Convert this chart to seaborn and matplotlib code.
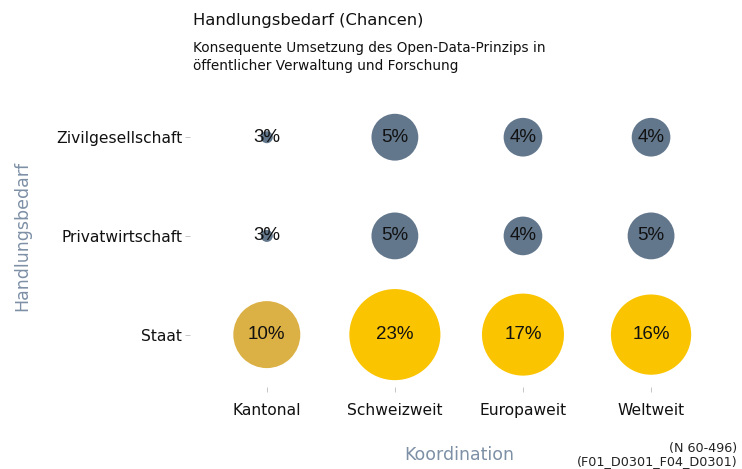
import matplotlib
matplotlib.use("Agg")
import matplotlib.pyplot as plt
import matplotlib.colors as mcolors
import seaborn as sns
import pandas as pd

# Koordinationsebenen (x) und Bereiche mit Handlungsbedarf (y, von unten nach oben)
koordination = ["Kantonal", "Schweizweit", "Europaweit", "Weltweit"]
bereiche = ["Staat", "Privatwirtschaft", "Zivilgesellschaft"]

# Anteile in Prozent je Bereich
staat = [10, 23, 17, 16]
privatwirtschaft = [3, 5, 4, 5]
zivilgesellschaft = [3, 5, 4, 4]

# Farbgruppen je Bereich; die kantonale Ebene beim Staat ist eigens markiert
gruppen_staat = ["Staat kantonal", "Staat", "Staat", "Staat"]
gruppen_andere = ["Andere"] * 4

palette = {"Andere": "#62768c", "Staat": "#fbc400", "Staat kantonal": "#dbb044"}

werte = {"Staat": staat, "Privatwirtschaft": privatwirtschaft,
         "Zivilgesellschaft": zivilgesellschaft}
gruppen = {"Staat": gruppen_staat, "Privatwirtschaft": gruppen_andere,
           "Zivilgesellschaft": gruppen_andere}

rows = []
for b in bereiche:
    for k, v, g in zip(koordination, werte[b], gruppen[b]):
        rows.append({"Koordination": k, "Handlungsbedarf": b, "Anteil": v, "Gruppe": g})
df = pd.DataFrame(rows)

sns.set_theme(style="white")
plt.rcParams["font.family"] = ["DejaVu Sans"]

fig = plt.figure(figsize=(7.42, 4.69), dpi=100)
ax = fig.add_axes([0.256, 0.175, 0.725, 0.644])

sns.scatterplot(
    data=df, x="Koordination", y="Handlungsbedarf",
    size="Anteil", sizes=(75, 4300),
    size_norm=mcolors.PowerNorm(gamma=0.6, vmin=3, vmax=23),
    hue="Gruppe", palette=palette,
    linewidth=0, legend=False, ax=ax, zorder=2,
)

for _, r in df.iterrows():
    ax.text(koordination.index(r["Koordination"]), bereiche.index(r["Handlungsbedarf"]),
            f"{r['Anteil']}%", ha="center", va="center", fontsize=13.5,
            family=["Liberation Sans", "DejaVu Sans"], color="#111111", zorder=3)

ax.set_xlim(-0.6, 3.6)
ax.set_ylim(-0.53, 2.53)
for s in ax.spines.values():
    s.set_visible(False)
ax.grid(False)
ax.tick_params(axis="both", which="both", length=3.5, width=0.6, color="#bbbbbb",
               labelsize=11.2, labelcolor="#111111", pad=2)
ax.tick_params(axis="x", pad=8, bottom=True)
ax.tick_params(axis="y", left=True)

ax.set_xlabel("Koordination", fontsize=12.5, color="#7d90a6", labelpad=20)
ax.set_ylabel("Handlungsbedarf", fontsize=12.5, color="#7d90a6", labelpad=18)

fig.text(0.260, 0.957, "Handlungsbedarf (Chancen)", fontsize=11.8, color="#111111",
         ha="left", va="center")
fig.text(0.260, 0.878, "Konsequente Umsetzung des Open-Data-Prinzips in\n"
         "öffentlicher Verwaltung und Forschung", fontsize=9.8, color="#111111",
         ha="left", va="center", linespacing=1.4)

fig.text(0.994, 0.030, "(N 60-496)\n(F01_D0301_F04_D0301)", fontsize=9.2,
         color="#222222", ha="right", va="center", linespacing=1.05)

fig.savefig("out.png", dpi=100, facecolor="white")
